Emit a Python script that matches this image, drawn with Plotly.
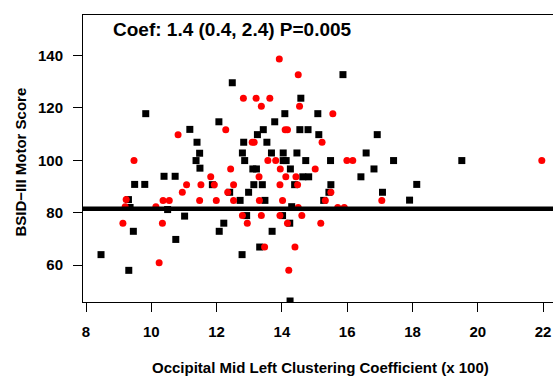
import plotly.graph_objects as go

# ---- data ----
black_x = [12.48, 9.83, 12.07, 11.18, 11.40, 11.48, 11.37, 11.49, 10.39, 10.73,
           9.49, 9.80, 11.87, 12.40, 9.30, 9.35, 12.72, 10.50, 11.02, 12.22,
           9.45, 12.08, 10.75, 8.46, 12.78, 9.31, 15.87, 14.58, 14.09, 15.10,
           13.78, 13.43, 14.55, 14.80, 13.25, 15.13, 16.92, 12.83, 13.54, 12.79,
           13.68, 14.04, 14.46, 16.58, 12.86, 14.04, 14.13, 14.73, 15.49, 13.11,
           13.22, 14.26, 16.82, 14.64, 14.82, 16.42, 13.14, 13.40, 14.39, 15.50,
           12.98, 15.44, 17.08, 13.48, 15.28, 14.30, 12.92, 14.02, 14.24, 13.70,
           13.32, 14.25, 17.42, 19.51, 18.13, 17.91]
black_y = [129.6, 117.8, 114.7, 111.8, 106.9, 102.7, 99.9, 97.0, 93.9, 93.9,
           90.8, 90.8, 90.7, 87.8, 85.0, 82.0, 84.7, 81.2, 78.7, 76.0,
           72.9, 72.9, 69.8, 64.0, 64.0, 58.0, 132.7, 123.7, 117.8, 117.8,
           114.7, 111.7, 111.7, 111.7, 109.8, 109.8, 109.8, 106.9, 106.9, 102.8,
           102.8, 102.8, 102.8, 102.8, 99.9, 99.9, 99.9, 99.9, 99.9, 96.7,
           96.7, 96.7, 96.7, 93.7, 93.7, 93.7, 90.7, 90.7, 90.7, 90.7,
           87.8, 87.8, 87.8, 84.7, 84.7, 82.3, 78.9, 78.9, 76.0, 72.9,
           66.9, 46.3, 99.9, 99.9, 90.8, 84.8]

red_x = [12.28, 10.82, 9.47, 12.43, 11.82, 11.08, 11.52, 11.93, 12.52, 10.95,
         12.34, 9.23, 9.20, 10.36, 10.55, 11.48, 11.99, 12.52, 10.14, 9.13,
         10.34, 10.24, 13.92, 14.50, 12.82, 13.21, 13.63, 13.37, 14.54, 15.56,
         14.10, 14.17, 13.09, 13.15, 15.23, 13.57, 13.81, 15.99, 16.17, 13.95,
         15.02, 13.30, 14.12, 14.43, 13.94, 14.48, 15.50, 13.31, 14.02, 15.33,
         17.06, 14.50, 15.71, 15.91, 12.79, 13.37, 13.94, 14.61, 12.94, 14.17,
         15.19, 13.47, 14.40, 14.21, 21.96]
red_y = [111.7, 109.8, 99.9, 96.7, 93.7, 90.7, 90.7, 90.7, 90.7, 87.8,
         87.8, 85.0, 82.3, 84.7, 84.7, 84.7, 84.7, 84.7, 82.3, 76.0,
         76.0, 60.9, 138.7, 132.7, 123.7, 123.7, 123.7, 120.6, 120.6, 117.8,
         111.7, 111.7, 106.9, 106.9, 106.9, 99.9, 99.9, 99.9, 99.9, 96.7,
         96.7, 93.7, 93.7, 93.7, 90.7, 90.7, 87.8, 84.7, 84.7, 84.7,
         84.7, 82.0, 82.0, 82.0, 78.9, 78.9, 78.9, 78.9, 76.0, 76.0,
         76.0, 66.9, 66.9, 58.0, 99.9]

ref_line_y = 81.5
x_range = [7.908, 22.303]
y_range = [45.92, 155.46]
x_ticks = [8, 10, 12, 14, 16, 18, 20, 22]
y_ticks = [60, 80, 100, 120, 140]

annot_text = "Coef: 1.4 (0.4, 2.4) P=0.005"
x_title = "Occipital Mid Left Clustering Coefficient (x 100)"
y_title = "BSID\u2212III Motor Score"

FONT = "Liberation Sans, Arial, sans-serif"

fig = go.Figure()
fig.add_trace(go.Scatter(x=black_x, y=black_y, mode="markers",
                         marker=dict(symbol="square", size=7, color="black",
                                     line=dict(width=0)),
                         showlegend=False, hoverinfo="skip"))
fig.add_trace(go.Scatter(x=red_x, y=red_y, mode="markers",
                         marker=dict(symbol="circle", size=7, color="#ff0000",
                                     line=dict(width=0)),
                         showlegend=False, hoverinfo="skip"))
fig.add_trace(go.Scatter(x=x_range, y=[ref_line_y, ref_line_y], mode="lines",
                         line=dict(color="black", width=4.5),
                         showlegend=False, hoverinfo="skip"))

fig.update_layout(
    width=553, height=376,
    margin=dict(l=83, r=0, t=15, b=74, pad=0),
    paper_bgcolor="white", plot_bgcolor="white",
    font=dict(family=FONT, color="black"),
    xaxis=dict(range=x_range, tickvals=x_ticks, ticktext=[str(v) for v in x_ticks],
               showgrid=False, zeroline=False, showline=True, linecolor="black",
               linewidth=1, mirror=True, ticks="outside", ticklen=9, tickwidth=1,
               tickcolor="black", ticklabelstandoff=7,
               tickfont=dict(family=FONT, size=15, color="black", weight="bold")),
    yaxis=dict(range=y_range, tickvals=y_ticks, ticktext=[str(v) for v in y_ticks],
               showgrid=False, zeroline=False, showline=True, linecolor="black",
               linewidth=1, ticks="outside", ticklen=9, tickwidth=1,
               tickcolor="black", ticklabelstandoff=7,
               tickfont=dict(family=FONT, size=15, color="black", weight="bold")),
    annotations=[
        dict(text=annot_text, xref="paper", yref="paper", x=0.0596, y=0.948,
             xanchor="left", yanchor="middle", showarrow=False,
             font=dict(family=FONT, size=19, color="black", weight="bold")),
        dict(text=x_title, xref="paper", yref="paper", x=0.5057, y=-0.2265,
             xanchor="center", yanchor="middle", showarrow=False,
             font=dict(family=FONT, size=15, color="black", weight="bold")),
        dict(text=y_title, xref="paper", yref="paper", x=-0.1319, y=0.486,
             xanchor="center", yanchor="middle", showarrow=False, textangle=-90,
             font=dict(family=FONT, size=15, color="black", weight="bold")),
    ],
)

fig.write_html("out.html")
